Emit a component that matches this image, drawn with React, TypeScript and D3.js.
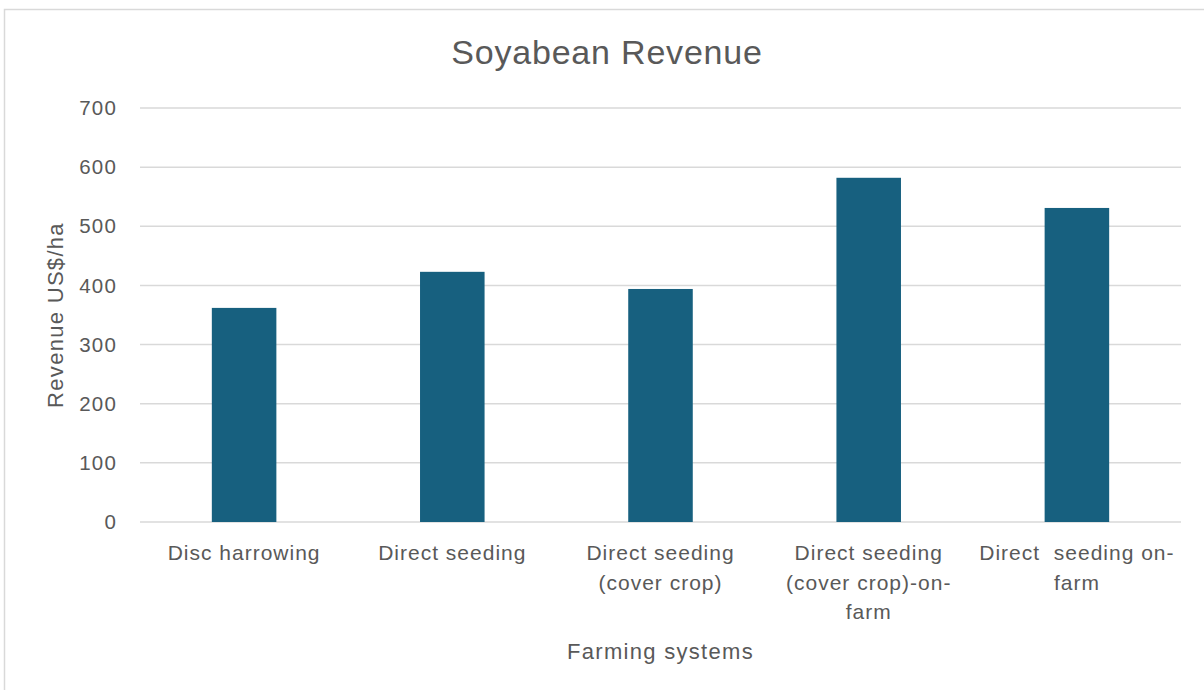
import React from "react";
import * as d3 from "d3";

const categories: string[][] = [
  ["Disc harrowing"],
  ["Direct seeding"],
  ["Direct seeding", "(cover crop)"],
  ["Direct seeding", "(cover crop)-on-", "farm"],
  ["Direct  seeding on-", "farm"],
];
const revenue: number[] = [362, 423, 394, 582, 531];
const yTicks: number[] = [0, 100, 200, 300, 400, 500, 600, 700];

const W = 1204;
const H = 690;
const plot = { left: 140, right: 1181, top: 108, bottom: 522 };
const font = "'Liberation Sans', Arial, sans-serif";
const textColor = "#595959";

export default function App() {
  const keys = categories.map((_, i) => String(i));
  const x = d3
    .scaleBand<string>()
    .domain(keys)
    .range([plot.left, plot.right])
    .paddingInner(0.69)
    .paddingOuter(0.345);
  const y = d3.scaleLinear().domain([0, 700]).range([plot.bottom, plot.top]);

  return (
    <svg
      width={W}
      height={H}
      style={{ position: "absolute", left: 0, top: 0, background: "#fff" }}
      fontFamily={font}
    >
      <rect x={4.5} y={9.5} width={W + 10} height={H + 10} fill="#fff" stroke="#d9d9d9" strokeWidth={1.5} />
      <text x={607} y={64} textAnchor="middle" fontSize={34} letterSpacing={0.8} fill={textColor}>
        Soyabean Revenue
      </text>

      {yTicks.map((t) => (
        <g key={t}>
          <line x1={plot.left} x2={plot.right} y1={y(t)} y2={y(t)} stroke="#d9d9d9" strokeWidth={1.5} />
          <text x={117} y={y(t)} dy="0.35em" textAnchor="end" fontSize={20.5} letterSpacing={1.2} fill={textColor}>
            {t}
          </text>
        </g>
      ))}

      {revenue.map((v, i) => (
        <rect
          key={i}
          x={x(String(i))}
          y={y(v)}
          width={x.bandwidth()}
          height={y(0) - y(v)}
          fill="#17607F"
        />
      ))}

      {categories.map((lines, i) => {
        const cx = (x(String(i)) as number) + x.bandwidth() / 2;
        return (
          <text key={i} textAnchor="middle" fontSize={21} letterSpacing={1} fill={textColor} style={{ whiteSpace: "pre" }}>
            {lines.map((l, j) => (
              <tspan key={j} x={cx} y={560 + j * 29.5}>
                {l}
              </tspan>
            ))}
          </text>
        );
      })}

      <text x={(plot.left + plot.right) / 2} y={659} textAnchor="middle" fontSize={22} letterSpacing={1.3} fill={textColor}>
        Farming systems
      </text>
      <text
        transform={`translate(63, 315) rotate(-90)`}
        textAnchor="middle"
        fontSize={22}
        letterSpacing={1.3}
        fill={textColor}
      >
        Revenue US$/ha
      </text>
    </svg>
  );
}
